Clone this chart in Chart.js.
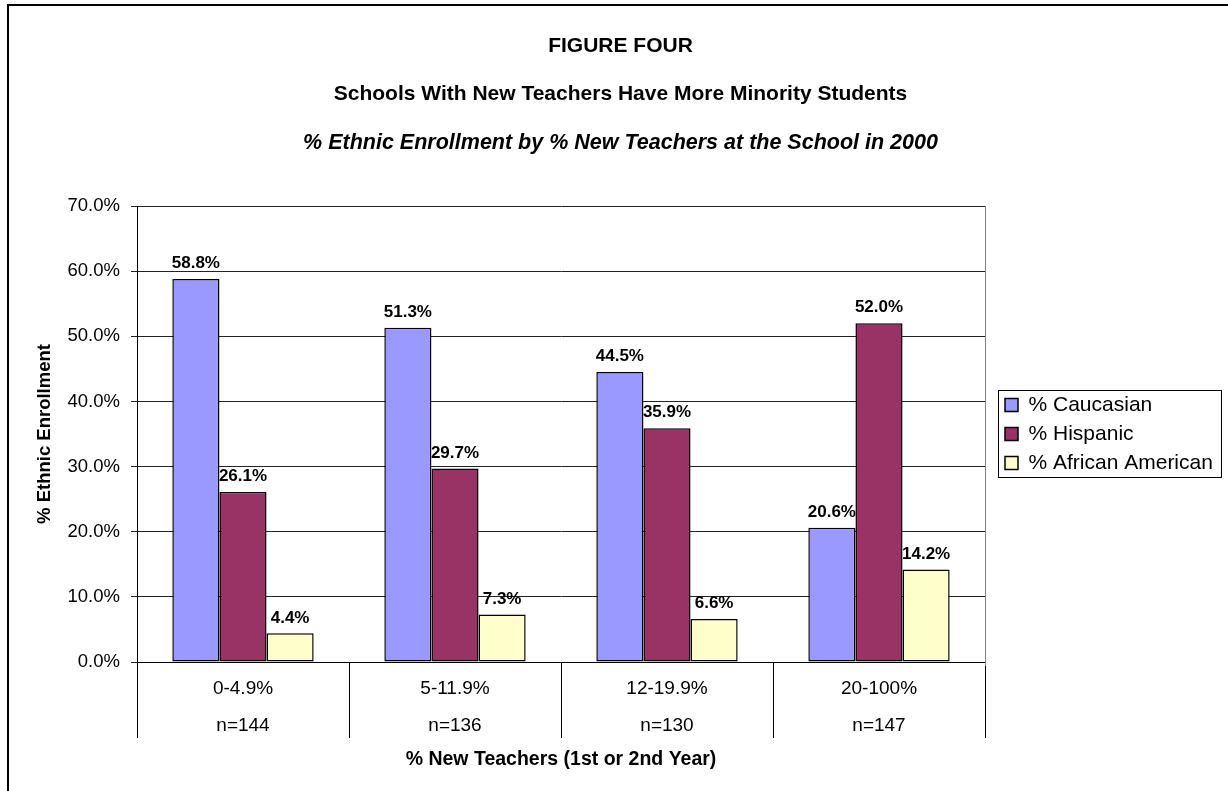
<!DOCTYPE html>
<html>
<head>
<meta charset="utf-8">
<title>Figure Four</title>
<script src="https://cdn.jsdelivr.net/npm/chart.js@4.4.1/dist/chart.umd.min.js"></script>
<style>
  html, body { margin: 0; padding: 0; background: #fff; }
  #wrap { position: relative; width: 1228px; height: 791px; overflow: hidden; }
  #frame { position: absolute; left: 7px; top: 4px; right: -10px; bottom: -10px;
           border-left: 2px solid #000; border-top: 2px solid #000; }
  canvas { position: absolute; left: 0; top: 0; }
</style>
</head>
<body>
<div id="wrap">
  <div id="frame"></div>
  <canvas id="chart" width="1228" height="791"></canvas>
</div>
<script>
// Share of new (1st/2nd year) teachers at the school, and number of schools in each band
const categoryRanges = ['0-4.9%', '5-11.9%', '12-19.9%', '20-100%'];
const sampleSizes = ['n=144', 'n=136', 'n=130', 'n=147'];

// Ethnic enrollment (%) by band
const caucasian = [58.8, 51.3, 44.5, 20.6];
const hispanic = [26.1, 29.7, 35.9, 52.0];
const africanAmerican = [4.4, 7.3, 6.6, 14.2];

const seriesNames = ['% Caucasian', '% Hispanic', '% African American'];
const seriesColors = ['#9999FF', '#993366', '#FFFFCC'];

const FONT = '"Liberation Sans", Arial, Helvetica, sans-serif';

// Value labels above every bar
const barValueLabels = {
  id: 'barValueLabels',
  afterDatasetsDraw(chart) {
    const ctx = chart.ctx;
    ctx.save();
    ctx.font = 'bold 17px ' + FONT;
    ctx.fillStyle = '#000';
    ctx.textAlign = 'center';
    ctx.textBaseline = 'middle';
    chart.data.datasets.forEach((ds, di) => {
      chart.getDatasetMeta(di).data.forEach((bar, i) => {
        ctx.fillText(ds.data[i].toFixed(1) + '%', bar.x, bar.y - 15.5);
      });
    });
    ctx.restore();
  }
};

// Grey right edge of the plot area
const plotEdge = {
  id: 'plotEdge',
  beforeDatasetsDraw(chart) {
    const {ctx, chartArea} = chart;
    const x = Math.round(chartArea.right) + 0.5;
    ctx.save();
    ctx.strokeStyle = '#808080';
    ctx.lineWidth = 1;
    ctx.beginPath();
    ctx.moveTo(x, chartArea.top);
    ctx.lineTo(x, chartArea.bottom + 4);
    ctx.stroke();
    ctx.restore();
  }
};

// Box drawn around the legend entries
const legendFrame = {
  id: 'legendFrame',
  afterDraw(chart) {
    const boxes = chart.legend && chart.legend.legendHitBoxes;
    if (!boxes || !boxes.length) return;
    const first = boxes[0], last = boxes[boxes.length - 1];
    const left = Math.round(first.left - 7) + 0.5;
    const top = Math.round(first.top + 4 - 8.5) + 0.5;
    const bottom = Math.round(last.top + 4 + 13 + 7.5) + 0.5;
    const right = Math.round(Math.max(...boxes.map(b => b.left + b.width)) + 8) + 0.5;
    const ctx = chart.ctx;
    ctx.save();
    ctx.strokeStyle = '#000';
    ctx.lineWidth = 1;
    ctx.strokeRect(left, top, right - left, bottom - top);
    ctx.restore();
  }
};

const labels = categoryRanges.map((r, i) => [r, sampleSizes[i]]);
const seriesData = [caucasian, hispanic, africanAmerican];

new Chart(document.getElementById('chart'), {
  type: 'bar',
  data: {
    labels: labels,
    datasets: seriesNames.map((name, i) => ({
      label: name,
      data: seriesData[i],
      backgroundColor: seriesColors[i],
      borderColor: '#000',
      borderWidth: 1.5,
      borderSkipped: false,
      categoryPercentage: 3 / 4.5,
      barPercentage: 1
    }))
  },
  options: {
    responsive: false,
    animation: false,
    devicePixelRatio: 1,
    layout: { padding: { left: 20, right: 7, top: 0, bottom: 0 } },
    plugins: {
      title: {
        display: true,
        text: ['FIGURE FOUR', 'Schools With New Teachers Have More Minority Students'],
        color: '#000',
        font: { family: FONT, size: 21, weight: 'bold', lineHeight: '48px' },
        padding: { top: 22.5, bottom: 0 }
      },
      subtitle: {
        display: true,
        text: '% Ethnic Enrollment by % New Teachers at the School in 2000',
        color: '#000',
        font: { family: FONT, size: 21.5, weight: 'bold', style: 'italic', lineHeight: '24px' },
        padding: { top: 13, bottom: 50.5 }
      },
      legend: {
        position: 'right',
        align: 'center',
        fullSize: false,
        maxWidth: 224,
        labels: {
          color: '#000',
          boxWidth: 13,
          boxHeight: 13,
          padding: 8,
          font: { family: FONT, size: 21 }
        }
      },
      tooltip: { enabled: false }
    },
    scales: {
      x: {
        grid: {
          display: true,
          offset: true,
          drawOnChartArea: false,
          drawTicks: true,
          tickLength: 76,
          color: '#000'
        },
        border: { display: true, color: '#000', width: 1 },
        ticks: {
          color: '#000',
          padding: -67,
          maxRotation: 0,
          autoSkip: false,
          font: { family: FONT, size: 19, lineHeight: '36.5px' }
        },
        title: {
          display: true,
          text: '% New Teachers (1st or 2nd Year)',
          color: '#000',
          font: { family: FONT, size: 19.5, weight: 'bold' },
          padding: { top: 0, bottom: 19.5 }
        },
        afterFit(scale) { scale.height = 129; }
      },
      y: {
        min: 0,
        max: 70,
        grid: { color: '#222', tickLength: 6, drawTicks: true },
        border: { display: true, color: '#000', width: 1 },
        ticks: {
          stepSize: 10,
          padding: 11,
          color: '#000',
          font: { family: FONT, size: 18.5 },
          callback: v => v.toFixed(1) + '%'
        },
        title: {
          display: true,
          text: '% Ethnic Enrollment',
          color: '#000',
          font: { family: FONT, size: 18.5, weight: 'bold' },
          padding: { top: 14, bottom: 0 }
        },
        afterFit(scale) { scale.width = 117; }
      },
      gap: {
        type: 'linear',
        position: 'right',
        display: true,
        grid: { display: false, drawTicks: false },
        border: { display: false },
        ticks: { display: false },
        afterFit(scale) { scale.width = 12; }
      }
    }
  },
  plugins: [plotEdge, barValueLabels, legendFrame]
});
</script>
</body>
</html>
